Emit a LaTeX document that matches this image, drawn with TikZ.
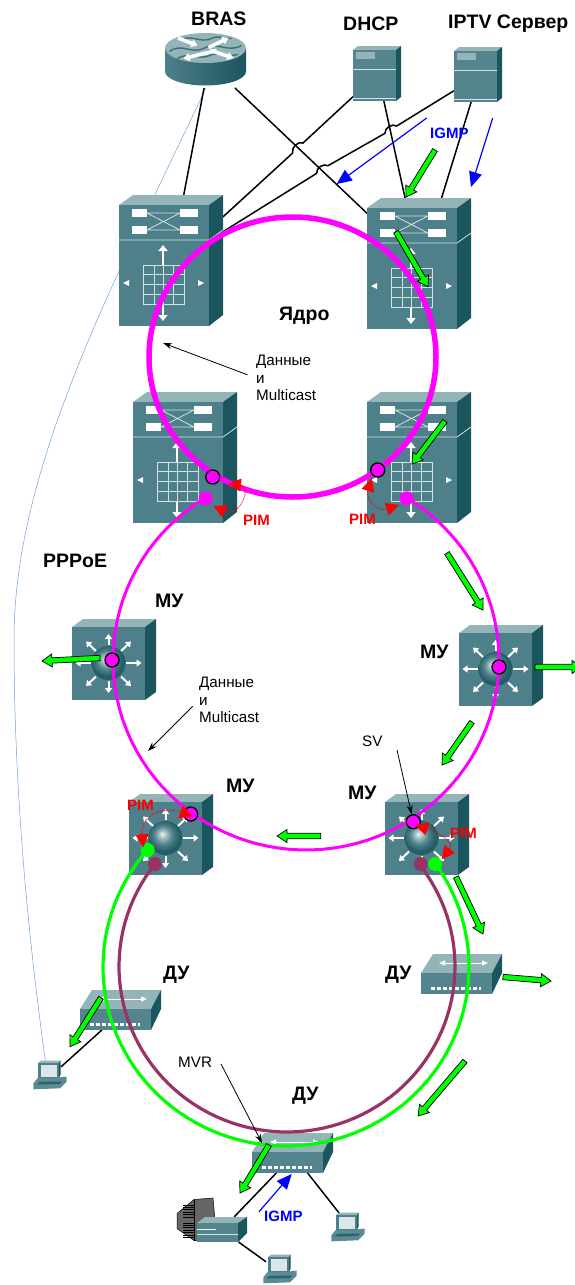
\documentclass[tikz,border=0pt]{standalone}
\usepackage{fontspec}
\setmainfont{Liberation Sans}
\usepackage{tikz}
\usetikzlibrary{arrows.meta,calc}
\definecolor{facecol}{HTML}{4D808A}
\definecolor{topcol}{HTML}{93B5B7}
\definecolor{sidecol}{HTML}{1B555E}
\definecolor{linecol}{HTML}{D5E2E2}
\definecolor{wavecol}{HTML}{3F6E76}
\definecolor{screencol}{HTML}{DCE6E6}
\definecolor{ringpink}{HTML}{FF00FF}
\definecolor{ringlime}{HTML}{00FF00}
\definecolor{ringmauve}{HTML}{993366}
\definecolor{thincol}{HTML}{6F9FD8}
\definecolor{textblue}{HTML}{0000FF}
\definecolor{textred}{HTML}{FF0000}
\pgfdeclareradialshading{muball}{\pgfpoint{-5bp}{6bp}}{%
	color(0bp)=(white!85!topcol);
	color(7bp)=(topcol);
	color(14bp)=(facecol);
	color(23bp)=(sidecol!80!facecol);
	color(50bp)=(sidecol)}
\tikzset{%
	corebox/.style={inner sep=0pt, outer sep=0pt, minimum width=104pt, minimum height=131pt},
	mubox/.style={inner sep=0pt, outer sep=0pt, minimum width=84pt, minimum height=81pt},
	dubox/.style={inner sep=0pt, outer sep=0pt, minimum width=81pt, minimum height=40pt},
	servbox/.style={inner sep=0pt, outer sep=0pt, minimum width=48pt, minimum height=55pt},
	routerbox/.style={inner sep=0pt, outer sep=0pt, minimum width=81pt, minimum height=55pt},
	pcbox/.style={inner sep=0pt, outer sep=0pt, minimum width=25pt, minimum height=17pt},
	stbbox/.style={inner sep=0pt, outer sep=0pt, minimum width=50pt, minimum height=25pt},
	link/.style={draw=black, line width=1.5pt},
	hop/.style={bend right=65},
	whitearrow/.style={draw=white, line width=2pt, -{Triangle[length=5pt,width=7pt]}},
	corearrow/.style={draw=white, line width=2.6pt, -{Triangle[length=6pt,width=9pt]}},
	devline/.style={draw=linecol, line width=.8pt},
	ringcore/.style={draw=ringpink, line width=5.5pt},
	ringagg/.style={draw=ringpink, line width=3pt},
	ringgreen/.style={draw=ringlime, line width=3.2pt},
	ringdu/.style={draw=ringmauve, line width=3.2pt},
	ringdot/.style={circle, draw=black, line width=1.3pt, fill=ringpink, inner sep=0pt, minimum size=14pt},
	plaindot/.style={circle, fill=#1, inner sep=0pt, minimum size=14pt},
	pimarc/.style={draw=textred, line width=.8pt, dash pattern=on 1pt off .8pt, {Triangle[length=13pt,width=13pt,fill=textred]}-{Triangle[length=13pt,width=13pt,fill=textred]}},
	igmparrow/.style={draw=textblue, line width=1.2pt, -{Triangle[length=15pt,width=13pt]}},
	note/.style={draw=black, line width=.8pt, -{Stealth[length=9pt,width=6pt]}},
	flow/.style={draw=black, fill=ringlime, line width=.7pt, to path={
		($(\tikztostart)!2.7pt!90:(\tikztotarget)$)
		-- ($(\tikztotarget)!10pt!(\tikztostart)!2.7pt!-90:(\tikztostart)$)
		-- ($(\tikztotarget)!10pt!(\tikztostart)!6.5pt!-90:(\tikztostart)$)
		-- (\tikztotarget)
		-- ($(\tikztotarget)!10pt!(\tikztostart)!6.5pt!90:(\tikztostart)$)
		-- ($(\tikztotarget)!10pt!(\tikztostart)!2.7pt!90:(\tikztostart)$)
		-- ($(\tikztostart)!2.7pt!-90:(\tikztotarget)$) -- cycle}},
	biglabel/.style={font=\fontsize{19.5pt}{22pt}\selectfont\bfseries, inner sep=0pt, anchor=west},
	smalllabel/.style={font=\fontsize{15.2pt}{17.5pt}\selectfont, inner sep=0pt, anchor=west, align=left},
	pimlabel/.style={font=\fontsize{15pt}{17pt}\selectfont\bfseries, text=textred, inner sep=0pt, anchor=west},
	igmplabel/.style={font=\fontsize{15pt}{17pt}\selectfont\bfseries, text=textblue, inner sep=0pt, anchor=west},
	pics/coresw/.style={code={
		\begin{scope}[shift={(0,-121)}]
		\fill[topcol] (0,0) -- (14,-10) -- (104,-10) -- (90,0) -- cycle;
		\fill[sidecol] (90,0) -- (104,-10) -- (104,110) -- (90,121) -- cycle;
		\fill[facecol] (0,0) rectangle (90,121);
		\draw[devline] (0,35) -- (90,35) -- (104,25);
		\draw[devline] (28,8) -- (61,8) (28,25) -- (61,25) (28,8) -- (61,25) (28,25) -- (61,8);
		\fill[white] (13,4) rectangle (28,12);
		\fill[white] (13,21) rectangle (28,29);
		\fill[white] (61,4) rectangle (79,12);
		\fill[white] (61,21) rectangle (79,29);
		\draw[corearrow] (44,60) -- (44,40);
		\draw[corearrow] (44,99) -- (44,116);
		\draw[devline] (24,60) rectangle (65,99);
		\draw[devline] (35,60) -- (35,99) (44,60) -- (44,99) (54,60) -- (54,99);
		\draw[devline] (24,69) -- (65,69) (24,79) -- (65,79) (24,89) -- (65,89);
		\fill[white] (4,78) -- (10,75) -- (10,81) -- cycle;
		\fill[white] (85,78) -- (79,75) -- (79,81) -- cycle;
		\end{scope}
	}},
	pics/musw/.style={code={
		\begin{scope}[shift={(0,-73)}]
		\fill[topcol] (0,0) -- (11,-8) -- (84,-8) -- (73,0) -- cycle;
		\fill[sidecol] (73,0) -- (84,-8) -- (84,65) -- (73,73) -- cycle;
		\fill[facecol] (0,0) rectangle (73,73);
		\draw[whitearrow] (19,36) -- (3.5,36);
		\draw[whitearrow] (54,36) -- (69.5,36);
		\draw[whitearrow] (24,24) -- (14,14.5);
		\draw[whitearrow] (49,24) -- (59,14.5);
		\draw[whitearrow] (24,49.5) -- (14,59);
		\draw[whitearrow] (49,49.5) -- (59,59);
		\draw[whitearrow] (36.5,18) -- (36.5,7);
		\draw[whitearrow] (36.5,54) -- (36.5,66);
		\shade[shading=muball] (36.5,36) circle (17pt);
		\end{scope}
	}},
	pics/dusw/.style={code={
		\begin{scope}[shift={(0,-21)}]
		\fill[topcol] (0,0) -- (12,-19) -- (81,-19) -- (71,0) -- cycle;
		\fill[sidecol] (71,0) -- (81,-19) -- (81,0) -- (71,21) -- cycle;
		\fill[facecol!90!topcol] (0,0) rectangle (71,21);
		\draw[white, line width=1pt, {Triangle[length=6pt,width=5pt]}-{Triangle[length=6pt,width=5pt]}] (18,-10) -- (67,-10);
		\draw[white, line width=3pt, dash pattern=on 3.5pt off 2.5pt] (10,15) -- (60,15);
		\end{scope}
	}},
	pics/server/.style={code={
		\begin{scope}[shift={(0,-51)}]
		\fill[topcol] (0,0) -- (5,-4) -- (48,-4) -- (43,0) -- cycle;
		\fill[sidecol] (43,0) -- (48,-4) -- (48,47) -- (43,51) -- cycle;
		\fill[facecol!90!topcol] (0,0) rectangle (43,51);
		\fill[topcol] (3,2) rectangle (22,8.5);
		\draw[devline] (0,19) -- (43,19);
		\draw[devline] (0,48.5) -- (43,48.5);
		\end{scope}
	}},
	pics/router/.style={code={
		\shade[left color=facecol, middle color=topcol!70!white, right color=sidecol] (-40.5,-12.5) -- (-40.5,11) arc[start angle=180, end angle=360, x radius=40.5pt, y radius=14pt] -- (40.5,-12.5) -- cycle;
		\fill[topcol] (0,-12.5) ellipse [x radius=40.5pt, y radius=15pt];
		\draw[wavecol, line width=1.4pt] (-36,-9) .. controls (-24,-18) and (-14,-6) .. (-2,-12) .. controls (10,-20) and (22,-7) .. (36,-15);
		\draw[wavecol, line width=1.4pt] (-28,-2) .. controls (-18,-9) and (-6,0) .. (4,-5) .. controls (12,-9) and (22,-3) .. (32,-6);
		\draw[wavecol, line width=1.4pt] (-24,-21) .. controls (-14,-26) and (-4,-17) .. (6,-22) .. controls (14,-26) and (20,-21) .. (26,-22);
		\draw[white, line width=3.6pt, -{Triangle[length=6pt,width=8pt]}] (-27.5,-22.5) -- (-8,-15);
		\draw[white, line width=3.6pt, -{Triangle[length=6pt,width=8pt]}] (3,-13) -- (23,-22.5);
		\draw[white, line width=3.6pt, -{Triangle[length=6pt,width=8pt]}] (11,-10) -- (-22,-2);
		\draw[white, line width=3.6pt, -{Triangle[length=6pt,width=8pt]}] (5,-10) -- (28,-2.5);
	}},
	pics/pc/.style={code={
		\fill[facecol!80!topcol] (-10.2,7.8) -- (11.5,7.8) -- (18.2,7.1) -- (18.2,12.2) -- (11.5,18.8) -- (-15.2,19.8) -- (-15.2,13.8) -- cycle;
		\fill[sidecol!70!facecol] (-12,15) -- (11,14.5) -- (14,12) -- (-9,12.5) -- cycle;
		\fill[topcol] (-10.5,-6.5) -- (-7,-9) -- (12,-9) -- (10.5,-6.5) -- cycle;
		\fill[sidecol] (10.5,-6.5) -- (12,-9) -- (12,5) -- (10.5,8.5) -- cycle;
		\fill[facecol] (-10.5,-6.5) rectangle (10.5,8.5);
		\fill[screencol] (-8,-4.5) rectangle (8,7);
	}},
	pics/stb/.style={code={
		\fill[black!60] (-45,-16) -- (-28,-30) -- (-9,-31.5) -- (-7,-9) -- (-8,11) -- (-28,11) -- (-45,-1) -- cycle;
		\draw[black, line width=.5pt] (-45,-16) -- (-28,-30) -- (-9,-31.5) -- (-7,-9) -- (-8,11) -- (-28,11) -- (-45,-1) -- cycle;
		\draw[black, line width=.5pt] (-28,-30) -- (-28,11);
		\draw[black, line width=11pt, dash pattern=on .9pt off 1.5pt] (-34,-25) -- (-34,-11);
		\draw[black, line width=11pt, dash pattern=on .9pt off 1.5pt] (-34,-7) -- (-34,8);
		\fill[topcol] (-25,-6.5) -- (-17,-12.5) -- (25,-12.5) -- (16,-6.5) -- cycle;
		\fill[sidecol] (16,-6.5) -- (25,-12.5) -- (25,3.5) -- (16,12.5) -- cycle;
		\fill[facecol!90!topcol] (-25,-6.5) rectangle (16,12.5);
		\draw[white, line width=.9pt] (-25,-.5) -- (-6,-.5);
		\draw[devline] (-25,5) -- (16,5);
	}}
}
\begin{document}
\begin{tikzpicture}[x=1pt,y=-1pt]
	\useasboundingbox (0,0) rectangle (574,1285);

	\node[routerbox] (bras) at (205.5,60.5) {};
	\node[servbox] (dhcp) at (377,73.5) {};
	\node[servbox] (iptv) at (478,74.5) {};
	\node[corebox] (coreNW) at (171,260.5) {};
	\node[corebox] (coreNE) at (419,263.5) {};
	\node[corebox] (coreSW) at (185,457.5) {};
	\node[corebox] (coreSE) at (419,457.5) {};
	\node[mubox] (muW) at (114,659.5) {};
	\node[mubox] (muE) at (501,665.5) {};
	\node[mubox] (muSW) at (171,834.5) {};
	\node[mubox] (muSE) at (427,834.5) {};
	\node[dubox] (duW) at (120.5,1010) {};
	\node[dubox] (duE) at (461.5,974) {};
	\node[dubox] (duS) at (292.5,1153) {};
	\node[pcbox] (pcW) at (48.5,1069.5) {};
	\node[pcbox] (pcS) at (346.5,1221.5) {};
	\node[pcbox] (pcB) at (278.5,1263.5) {};
	\node[stbbox] (stb) at (222,1229.5) {};

	\coordinate (hopA1) at (303,143);
	\coordinate (hopA2) at (292.7,153);
	\coordinate (hopB1) at (396.7,126);
	\coordinate (hopB2) at (385,133.3);
	\coordinate (hopC1) at (328,165.7);
	\coordinate (hopC2) at (316.7,173.3);

	\draw[thincol, line width=.5pt] (bras.-89) .. controls (110,290) and (14,470) .. (14,640) .. controls (14,800) and (30,950) .. (pcW.110);

	\draw[link] (bras.-93) -- (coreNW.79);
	\draw[link] (bras.-43) -- (coreNE.136);
	\draw[link] (dhcp.224) -- (hopA1) to[hop] (hopA2) -- (coreNW.40);
	\draw[link] (dhcp.-76) -- (coreNE.102);
	\draw[link] (iptv.214) -- (hopB1) to[hop] (hopB2) -- (hopC1) to[hop] (hopC2) -- (coreNW.29);
	\draw[link] (iptv.-104) -- (coreNE.71);
	\draw[link] (duW.-133) -- (pcW.12);
	\draw[link] (duS.-129) -- (stb.46);
	\draw[link] (duS.-53) -- (pcS.131);
	\draw[link] (stb.-37) -- (pcB.172);

	\pic at (bras.center) {router};
	\pic at (dhcp.south west) {server};
	\pic at (iptv.south west) {server};
	\pic at (coreNW.south west) {coresw};
	\pic at (coreNE.south west) {coresw};
	\pic at (coreSW.south west) {coresw};
	\pic at (coreSE.south west) {coresw};
	\pic at (muW.south west) {musw};
	\pic at (muE.south west) {musw};
	\pic at (muSW.south west) {musw};
	\pic at (muSE.south west) {musw};
	\pic at (duW.south west) {dusw};
	\pic at (duE.south west) {dusw};
	\pic at (duS.south west) {dusw};
	\pic at (pcW.center) {pc};
	\pic at (pcS.center) {pc};
	\pic at (pcB.center) {pc};
	\pic at (stb.center) {stb};

	\draw[ringgreen] plot[domain=220.9:-35.5, samples=90] ({286+183*cos(\x)},{967+179*sin(\x)});
	\draw[ringdu] plot[domain=218.2:-37.2, samples=90] ({287+168*cos(\x)},{966.4+165.6*sin(\x)});
	\draw[ringagg] plot[domain=238.5:-58.8, samples=90] ({306+193*cos(\x)},{660+190*sin(\x)});
	\draw[ringcore] (292.5,357) ellipse [x radius=143.5pt, y radius=140pt];

	\node[plaindot=ringpink] (dotCoreW) at (205.7,498.3) {};
	\node[plaindot=ringpink] (dotCoreE) at (406.7,498.3) {};
	\node[ringdot] (dotSW) at (212.7,477) {};
	\node[ringdot] (dotSE) at (377.7,470) {};
	\node[ringdot] (dotMuW) at (112,660) {};
	\node[ringdot] (dotMuE) at (499,667) {};
	\node[ringdot] (dotMuSW) at (190.7,814) {};
	\node[ringdot] (dotMuSE) at (413.3,821.7) {};
	\node[plaindot=ringlime] (dotGreenW) at (147.7,850) {};
	\node[plaindot=ringlime] (dotGreenE) at (435,864) {};
	\node[plaindot=ringmauve] (dotDuW) at (155,864) {};
	\node[plaindot=ringmauve] (dotDuE) at (420.7,864) {};

	\coordinate (pimA1) at (228,484);
	\coordinate (pimA2) at (213.3,506);
	\coordinate (pimB1) at (371.7,478.3);
	\coordinate (pimB2) at (399,505);
	\coordinate (pimC1) at (192.7,816.7);
	\coordinate (pimC2) at (143.3,847.3);
	\coordinate (pimD1) at (415,825);
	\coordinate (pimD2) at (441.7,859.3);
	\draw[pimarc] (pimA1) .. controls (252,486) and (240,518) .. (pimA2);
	\draw[pimarc] (pimB1) .. controls (365,500) and (378,512) .. (pimB2);
	\draw[pimarc] (pimC1) .. controls (168,807) and (140,812) .. (pimC2);
	\draw[pimarc] (pimD1) .. controls (438,832) and (455,842) .. (pimD2);

	\coordinate (fAa) at (435,150); \coordinate (fAb) at (406,197);
	\coordinate (fBa) at (396,231.7); \coordinate (fBb) at (428,286.7);
	\coordinate (fCa) at (445,421); \coordinate (fCb) at (412,464);
	\coordinate (fDa) at (447,553); \coordinate (fDb) at (483,610);
	\coordinate (fEa) at (535,667); \coordinate (fEb) at (582,667);
	\coordinate (fFa) at (472,722); \coordinate (fFb) at (442,765);
	\coordinate (fGa) at (100,658); \coordinate (fGb) at (42,661);
	\coordinate (fHa) at (320.7,836); \coordinate (fHb) at (277,836);
	\coordinate (fIa) at (456,877); \coordinate (fIb) at (483,934);
	\coordinate (fJa) at (503,977); \coordinate (fJb) at (551,981);
	\coordinate (fKa) at (465,1061); \coordinate (fKb) at (418,1116);
	\coordinate (fLa) at (101,997.7); \coordinate (fLb) at (70,1046.7);
	\coordinate (fMa) at (269,1145); \coordinate (fMb) at (240,1193);
	\draw[flow] (fAa) to (fAb);
	\draw[flow] (fBa) to (fBb);
	\draw[flow] (fCa) to (fCb);
	\draw[flow] (fDa) to (fDb);
	\draw[flow] (fEa) to (fEb);
	\draw[flow] (fFa) to (fFb);
	\draw[flow] (fGa) to (fGb);
	\draw[flow] (fHa) to (fHb);
	\draw[flow] (fIa) to (fIb);
	\draw[flow] (fJa) to (fJb);
	\draw[flow] (fKa) to (fKb);
	\draw[flow] (fLa) to (fLb);
	\draw[flow] (fMa) to (fMb);

	\coordinate (igmpAa) at (426.7,118); \coordinate (igmpAb) at (336.7,184);
	\coordinate (igmpBa) at (492.7,118); \coordinate (igmpBb) at (471,187);
	\coordinate (igmpCa) at (259,1211.7); \coordinate (igmpCb) at (291.7,1174);
	\draw[igmparrow] (igmpAa) -- (igmpAb);
	\draw[igmparrow] (igmpBa) -- (igmpBb);
	\draw[igmparrow] (igmpCa) -- (igmpCb);

	\node[biglabel] (brasText) at (191,19) {BRAS};
	\node[biglabel] (dhcpText) at (343,24) {DHCP};
	\node[biglabel] (iptvText) at (448,24) {IPTV Сервер};
	\node[biglabel] (coreText) at (279,316) {Ядро};
	\node[biglabel] (pppoeText) at (43,561) {PPPoE};
	\node[biglabel] (muTextW) at (155,601) {МУ};
	\node[biglabel] (muTextE) at (420,652) {МУ};
	\node[biglabel] (muTextSW) at (226,786) {МУ};
	\node[biglabel] (muTextSE) at (348,793) {МУ};
	\node[biglabel] (duTextW) at (163,975) {ДУ};
	\node[biglabel] (duTextE) at (385,975) {ДУ};
	\node[biglabel] (duTextS) at (292,1096) {ДУ};
	\node[smalllabel] (dataTextA) at (256,378) {Данные\\и\\Multicast};
	\node[smalllabel] (dataTextB) at (199,700) {Данные\\и\\Multicast};
	\node[smalllabel] (svText) at (362,741) {SV};
	\node[smalllabel] (mvrText) at (178,1062) {MVR};
	\node[pimlabel] (pimTextA) at (243,520) {PIM};
	\node[pimlabel] (pimTextB) at (349,519) {PIM};
	\node[pimlabel] (pimTextC) at (127,805) {PIM};
	\node[pimlabel] (pimTextD) at (450,833) {PIM};
	\node[igmplabel] (igmpTextA) at (430,133) {IGMP};
	\node[igmplabel] (igmpTextB) at (264,1216) {IGMP};

	\coordinate (dataTipA) at (163,343);
	\coordinate (dataTipB) at (148,751);
	\coordinate (svStart) at (397,750);
	\coordinate (mvrStart) at (221,1064);
	\coordinate (mvrTip) at (262,1143);
	\draw[note, shorten <=9pt] (dataTextA.west) -- (dataTipA);
	\draw[note, shorten <=9pt] (dataTextB.west) -- (dataTipB);
	\draw[note] (svStart) -- (dotMuSE);
	\draw[note] (mvrStart) -- (mvrTip);
\end{tikzpicture}
\end{document}
